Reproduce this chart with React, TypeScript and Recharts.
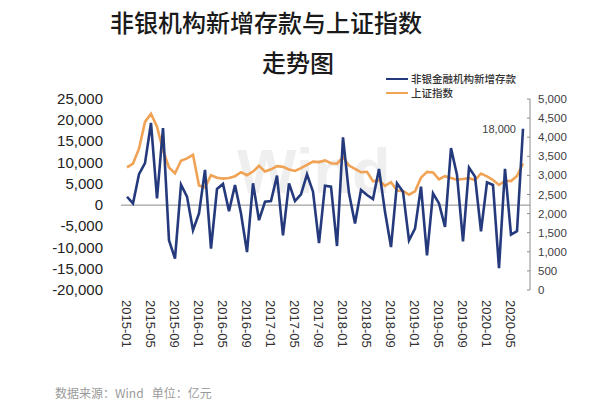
import React from 'react';
import { LineChart, Line, XAxis, YAxis, ReferenceLine, Legend } from 'recharts';

// months 2015-01 .. 2020-07
const YEARS = [2015, 2016, 2017, 2018, 2019, 2020];
const LAST_MONTH_2020 = 7;

// 非银金融机构新增存款 (亿元)
const NONBANK_DEPOSITS = [
  1970, 400, 7300, 9880, 19360, 1580, 18170, -8300, -12600, 4800, 2000, -5930,
  -1970, 8300, -10270, 3790, 4980, -1420, 4740, -2000, -11060, 5140, -3550, 790,
  950, 6950, -7110, 5140, 950, 2530, 7270, 3160, -8930, 4580, 4340, -9640,
  15950, 2770, -4340, 3560, 2370, 1420, 8530, -1580, -9880, 5140, 3160, -8300,
  -5530, 4340, -11850, 2770, 400, -5140, 13430, 7110, -8530, 8850, 6710, -6160,
  5370, 4740, -14850, 8530, -6950, -6160, 18000,
];

// 上证指数 (month end)
const SH_INDEX = [
  3210, 3310, 3700, 4400, 4611, 4277, 3664, 3206, 3053, 3383, 3446, 3539,
  2738, 2688, 3004, 2938, 2917, 2930, 2979, 3085, 3005, 3100, 3250, 3104,
  3159, 3242, 3223, 3155, 3117, 3192, 3273, 3361, 3349, 3393, 3317, 3307,
  3481, 3259, 3169, 3082, 3095, 2847, 2876, 2725, 2821, 2603, 2588, 2494,
  2585, 2941, 3091, 3078, 2899, 2979, 2933, 2886, 2905, 2929, 2872, 3050,
  2977, 2880, 2750, 2860, 2852, 2985, 3310,
];

const LEFT_TICKS = [-20000, -15000, -10000, -5000, 0, 5000, 10000, 15000, 20000, 25000];
const RIGHT_TICKS = [0, 500, 1000, 1500, 2000, 2500, 3000, 3500, 4000, 4500, 5000];

const LABELED_MONTH = '2020-07';

const MONTHS: string[] = [];
YEARS.forEach(y => {
  const last = y === 2020 ? LAST_MONTH_2020 : 12;
  for (let m = 1; m <= last; m++) MONTHS.push(`${y}-${m < 10 ? '0' + m : m}`);
});

const data = MONTHS.map((month, i) => ({
  month,
  deposits: NONBANK_DEPOSITS[i],
  index: SH_INDEX[i],
}));

const BLUE = '#243a7c';
const ORANGE = '#f0a255';
const LATIN = '"Liberation Sans", Arial, sans-serif';
const CJK = '"Noto Sans CJK SC", "Noto Sans", sans-serif';

const fmt = (v: number) => v.toLocaleString('en-US');

const XTick = ({ x, y, payload }: any) => (
  <text
    x={x}
    y={y}
    dy={4.6}
    transform={`rotate(90, ${x}, ${y})`}
    textAnchor="start"
    fontSize={13}
    fontFamily={LATIN}
    fill="#333"
  >
    {payload.value}
  </text>
);

const LeftTick = ({ x, y, payload }: any) => (
  <text x={x} y={y} dy={5} textAnchor="end" fontSize={15} fontFamily={LATIN} fill="#222">
    {fmt(payload.value)}
  </text>
);

const RightTick = ({ x, y, payload }: any) => (
  <g>
    <line x1={x - 11} x2={x - 8} y1={y} y2={y} stroke="#8c8c8c" />
    <text x={x} y={y} dy={4} fontSize={11.5} fontFamily={LATIN} fill="#404040" textAnchor="start">
      {fmt(payload.value)}
    </text>
  </g>
);

const PeakLabel = (props: any) => {
  const { x, y, index } = props;
  if (MONTHS[index] !== LABELED_MONTH) return null;
  return (
    <text x={x - 7} y={y} dy={4} textAnchor="end" fontSize={11} fontFamily={LATIN} fill="#404040">
      {fmt(NONBANK_DEPOSITS[index])}
    </text>
  );
};

const renderLegend = () => (
  <div style={{ fontFamily: CJK, fontSize: 10.5, fontWeight: 500, color: '#333', lineHeight: '14px' }}>
    {[
      { name: '非银金融机构新增存款', color: BLUE },
      { name: '上证指数', color: ORANGE },
    ].map(item => (
      <div key={item.name} style={{ display: 'flex', alignItems: 'center', height: 14 }}>
        <span style={{ display: 'inline-block', width: 22, height: 2.5, background: item.color, marginRight: 3 }} />
        <span>{item.name}</span>
      </div>
    ))}
  </div>
);

export default function App() {
  return (
    <div style={{ position: 'absolute', left: 0, top: 0, width: 600, height: 407, background: '#fff', overflow: 'hidden' }}>
      {/* Wind watermark */}
      <svg width={600} height={407} style={{ position: 'absolute', left: 0, top: 0 }}>
        <text x={237} y={193} fontSize={63} fontWeight="bold" fontFamily={LATIN} fill="#efefef">
          Wind
        </text>
      </svg>

      <div style={{ position: 'absolute', left: 110, top: 9, fontFamily: CJK, fontSize: 24, lineHeight: '26px', color: '#1a1a1a', fontWeight: 500, whiteSpace: 'nowrap' }}>
        非银机构新增存款与上证指数
      </div>
      <div style={{ position: 'absolute', left: 262, top: 49, fontFamily: CJK, fontSize: 24, lineHeight: '26px', color: '#1a1a1a', fontWeight: 500, whiteSpace: 'nowrap' }}>
        走势图
      </div>

      <div style={{ position: 'absolute', left: 0, top: 0 }}>
        <LineChart width={600} height={407} data={data} margin={{ top: 99, right: 0, bottom: 0, left: 0 }}>
          <XAxis
            dataKey="month"
            scale="point"
            padding={{ left: 6, right: 7 }}
            interval={3}
            axisLine={false}
            tickLine={false}
            tickSize={0}
            tickMargin={10}
            height={117}
            tick={<XTick />}
          />
          <YAxis
            yAxisId="left"
            domain={[-20000, 25000]}
            ticks={LEFT_TICKS}
            interval={0}
            width={121}
            axisLine={false}
            tickLine={false}
            tickSize={0}
            tickMargin={18}
            tick={<LeftTick />}
          />
          <YAxis
            yAxisId="right"
            orientation="right"
            domain={[0, 5000]}
            ticks={RIGHT_TICKS}
            interval={0}
            width={70}
            axisLine={{ stroke: '#8c8c8c' }}
            tickLine={false}
            tickSize={0}
            tickMargin={8}
            tick={<RightTick />}
          />
          <ReferenceLine yAxisId="left" y={0} stroke="#8a8a8a" strokeWidth={1} />
          <Legend layout="horizontal" verticalAlign="middle" align="center" wrapperStyle={{ left: 386, top: 72, width: 170, height: 28 }} content={renderLegend} />
          <Line yAxisId="right" dataKey="index" name="上证指数" stroke={ORANGE} strokeWidth={2.6} dot={false} isAnimationActive={false} />
          <Line yAxisId="left" dataKey="deposits" name="非银金融机构新增存款" stroke={BLUE} strokeWidth={2.6} dot={false} isAnimationActive={false} label={<PeakLabel />} />
        </LineChart>
      </div>

      <div style={{ position: 'absolute', left: 55, top: 384, fontFamily: CJK, fontSize: 12, color: '#9a9a9a', whiteSpace: 'pre' }}>
        数据来源：Wind   单位：亿元
      </div>
    </div>
  );
}
